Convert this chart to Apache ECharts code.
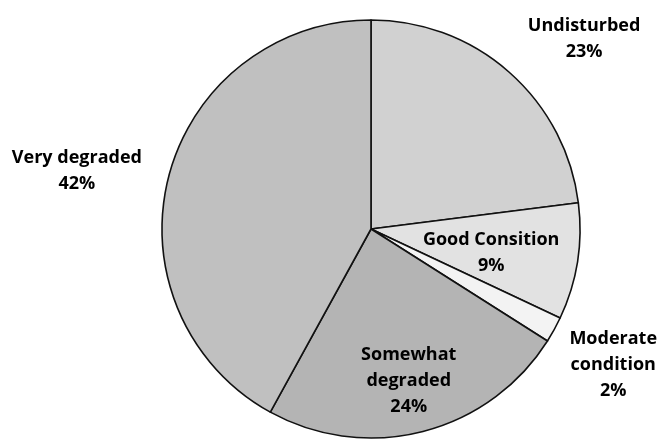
<!DOCTYPE html>
<html>
<head>
<meta charset="utf-8">
<title>Condition of sites</title>
<script src="https://cdn.jsdelivr.net/npm/echarts@6/dist/echarts.min.js"></script>
<style>
  html, body { margin: 0; padding: 0; background: #ffffff; }
  #chart { width: 660px; height: 439px; }
</style>
</head>
<body>
<div id="chart"></div>
<script>
// Site condition categories, clockwise from 12 o'clock
var categories = ['Undisturbed', 'Good Consition', 'Moderate condition', 'Somewhat degraded', 'Very degraded'];
var percentages = [23, 9, 2, 24, 42];
// Line breaks used in the slice labels
var labelNames = ['Undisturbed', 'Good Consition', 'Moderate\ncondition', 'Somewhat\ndegraded', 'Very degraded'];

// Greyscale fills for each slice
var sliceColors = ['#d1d1d1', '#e2e2e2', '#f3f3f3', '#b4b4b4', '#c0c0c0'];
// Small shifts applied to each label from its default inside spot
var labelShift = [[142, -109], [14, 7], [148, 84], [11, 48], [-190, -31]];

var chart = echarts.init(document.getElementById('chart'), null, { renderer: 'canvas' });

var pieData = categories.map(function (name, i) {
  return {
    name: name,
    value: percentages[i],
    itemStyle: { color: sliceColors[i] }
  };
});

function lineRich(txt) {
  return txt.split('\n').map(function (s) { return '{t|' + s + '}'; }).join('\n');
}

chart.setOption({
  animation: false,
  backgroundColor: '#ffffff',
  series: [{
    type: 'pie',
    center: [371, 229],
    radius: 209,
    startAngle: 90,
    clockwise: true,
    avoidLabelOverlap: false,
    data: pieData,
    itemStyle: { borderColor: '#111111', borderWidth: 1.6 },
    emphasis: { disabled: true },
    labelLine: { show: false },
    label: {
      show: true,
      position: 'inside',
      color: '#000000',
      formatter: function (p) {
        return lineRich(labelNames[p.dataIndex]) + '\n' + '{t|' + p.value + '%}';
      },
      rich: {
        t: {
          align: 'center',
          fontFamily: 'Open Sans',
          fontWeight: 'bold',
          fontSize: 18,
          lineHeight: 26,
          color: '#000000'
        }
      }
    },
    labelLayout: function (params) {
      var s = labelShift[params.dataIndex];
      return { dx: s[0], dy: s[1] };
    }
  }]
});
</script>
</body>
</html>
